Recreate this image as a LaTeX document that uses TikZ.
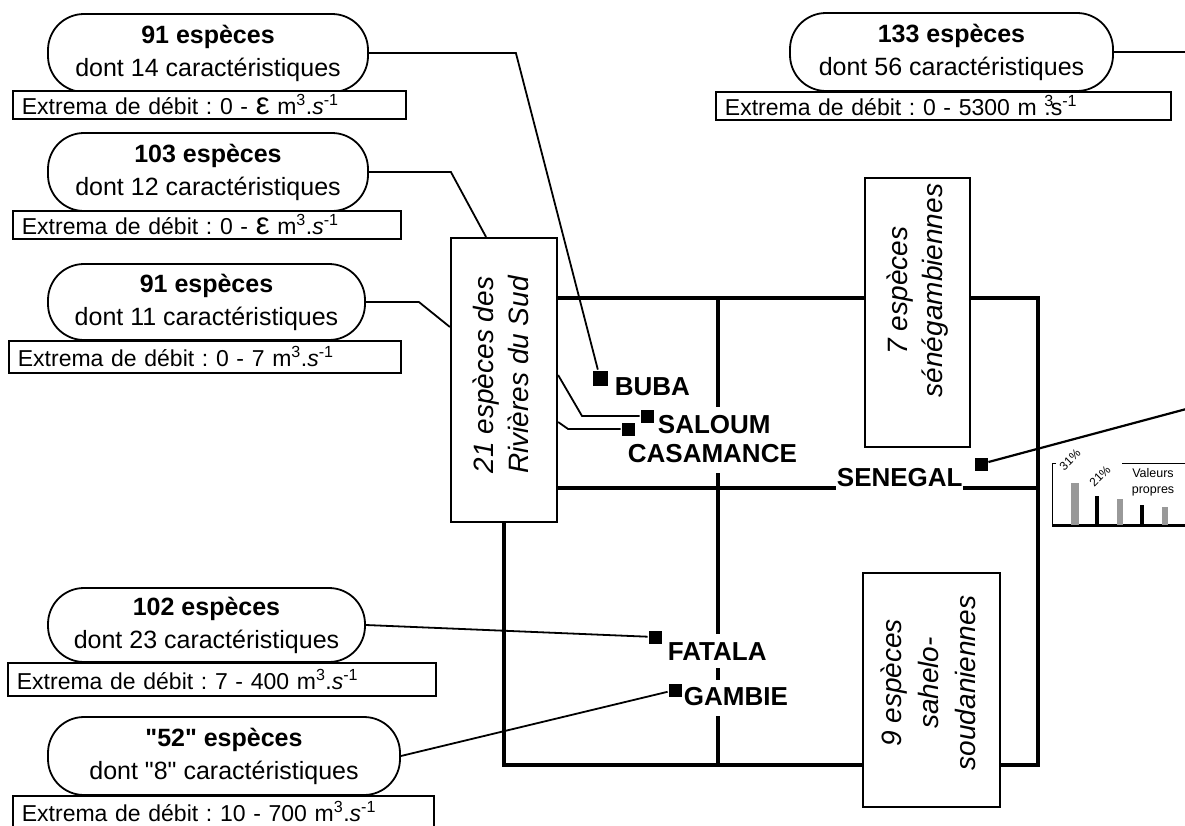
\documentclass[tikz,border=0pt]{standalone}
\usepackage{fontspec}
\setmainfont{Liberation Sans}
\newfontfamily\qfont{Liberation Sans}
\usetikzlibrary{positioning}
\frenchspacing
\newcommand{\eps}{\scalebox{1.35}{ε}}
\newcommand{\dq}{{\qfont\symbol{34}}}

\begin{document}
\begin{tikzpicture}[x=1pt, y=-1pt, line width=1.8pt,
 esp/.style={draw, rounded corners=36pt, minimum width=320pt, minimum height=78pt, inner sep=0pt, align=center, font=\fontsize{25}{33}\selectfont},
 deb/.style={draw, fill=white, anchor=north west, minimum height=28pt, inner xsep=9pt, inner ysep=0pt, align=left, font=\fontsize{23}{26}\selectfont},
 grp/.style={draw, line width=2.2pt, fill=white, inner sep=0pt, font=\fontsize{28}{35}\selectfont\itshape},
 stn/.style={fill=black, minimum size=13pt, inner sep=0pt},
 riv/.style={anchor=west, inner sep=0pt, font=\fontsize{26}{30}\selectfont\bfseries},
 frame/.style={line width=4.5pt}]

\useasboundingbox (0,0) rectangle (1185,825);

% Set A
\node[esp] (A) at (208,53) {\textbf{91 espèces}\\dont 14 caractéristiques};
\node[deb, text width=375pt] (A2) at (12,90) {Extrema de débit : 0 - \eps{} m\textsuperscript{3}.\textit{s}\textsuperscript{-1}};

% Set B
\node[esp] (B) at (208,172) {\textbf{103 espèces}\\dont 12 caractéristiques};
\node[deb, text width=370pt] (B2) at (12,210) {Extrema de débit : 0 - \eps{} m\textsuperscript{3}.\textit{s}\textsuperscript{-1}};

% Set C
\node[esp, minimum width=317pt, minimum height=76pt] (C) at (206.5,302) {\textbf{91 espèces}\\dont 11 caractéristiques};
\node[deb, text width=374pt, minimum height=32pt] (C2) at (8,340) {Extrema de débit : 0 - 7 m\textsuperscript{3}.\textit{s}\textsuperscript{-1}};

% Set D
\node[esp, minimum width=317pt, minimum height=74pt] (D) at (206.5,625) {\textbf{102 espèces}\\dont 23 caractéristiques};
\node[deb, text width=410pt, minimum height=33pt] (D2) at (7,662) {Extrema de débit : 7 - 400 m\textsuperscript{3}.\textit{s}\textsuperscript{-1}};

% Set E
\node[esp, minimum width=352pt] (E) at (224,756) {\textbf{\dq52\dq{} espèces}\\dont \dq8\dq{} caractéristiques};
\node[deb, text width=403pt, minimum height=32pt] (E2) at (12,795) {Extrema de débit : 10 - 700 m\textsuperscript{3}.\textit{s}\textsuperscript{-1}};

% Set F
\node[esp, minimum width=323pt] (F) at (951.5,52) {\textbf{133 espèces}\\dont 56 caractéristiques};
\node[deb, text width=437pt] (F2) at (715,91) {Extrema de débit : 0 - 5300 m \rlap{\textsuperscript{3}}.s\textsuperscript{-1}};

% groups
\node[grp, minimum width=106pt, minimum height=284pt] (R) at (504,380) {\rotatebox{90}{\hspace*{10pt}\begin{tabular}{@{}c@{}}21 espèces des\\Rivières du Sud\end{tabular}}};
\node[grp, minimum width=105pt, minimum height=269pt] (S) at (917.5,312.5) {\rotatebox{90}{\hspace*{44pt}\begin{tabular}{@{}c@{}}7 espèces\\sénégambiennes\end{tabular}}};
\node[grp, minimum width=137pt, minimum height=234pt, font=\fontsize{28}{37}\selectfont\itshape] (H) at (931.5,690) {\rotatebox{90}{\hspace*{14pt}\begin{tabular}{@{}c@{}}9 espèces\\sahelo-\\soudaniennes\end{tabular}}};

% rivers
\node[riv] (tbuba) at (614,387) {BUBA};
\node[riv] (tsal) at (657,425) {SALOUM};
\node[riv] (tcas) at (627,454) {CASAMANCE};
\node[riv] (tsen) at (836,477.5) {SENEGAL};
\node[riv] (tfat) at (667,652) {FATALA};
\node[riv] (tgam) at (683,697) {GAMBIE};

% stations
\node[stn, minimum size=15pt] (buba) at (600,378) {};
\node[stn] (saloum) at (647,416) {};
\node[stn] (casa) at (628,429) {};
\node[stn] (senegal) at (981,464) {};
\node[stn] (fatala) at (655,637) {};
\node[stn] (gambie) at (675,690) {};

% tree
\coordinate (top) at (0,298);
\coordinate (mid) at (0,488);
\coordinate (bot) at (0,765);
\coordinate (rgt) at (1038,0);
\draw[frame] (R.east |- top) -- (S.west |- top);
\draw[frame] (S.east |- top) -- (rgt |- top) -- (rgt |- bot) -- (H.east |- bot);
\draw[frame] (R.south) -- (R.south |- bot) -- (H.west |- bot);
\draw[frame] (R.east |- mid) -- (tsen.west |- mid);
\draw[frame] (tsen.east |- mid) -- (rgt |- mid);
\draw[frame] (718,298) -- (718,407);
\draw[frame] (718,473) -- (718,634);
\draw[frame] (718,668) -- (718,680);
\draw[frame] (718,716) -- (718,765);

% links
\coordinate (outF) at (1190,52);
\coordinate (outS) at (1190,408);
\draw (A.east) -- ++(147,0) -- (buba);
\draw (B.east) -- ++(82,0) -- ([xshift=-18pt]R.north);
\draw (C.east) -- ++(53,0) -- ([yshift=53pt]R.west);
\draw ([yshift=5pt]R.east) -- (582,416) -- (saloum);
\draw ([yshift=-42pt]R.east) -- ++(10,7) -- (casa);
\draw (D.east) -- (fatala);
\draw (E.east) -- (gambie);
\draw (F.east) -- (outF);
\draw[line width=2.2pt] (senegal) -- (outS);

% eigenvalues
\draw[line width=1pt] (1056,463) -- (1052,463) -- (1052,525);
\draw[line width=3pt] (1052,525) -- (1190,525);
\fill[gray!80] (1071,483) rectangle (1079,525);
\fill (1095,496) rectangle (1099,525);
\fill[gray!80] (1117,499) rectangle (1123,525);
\fill (1140,505) rectangle (1144,525);
\fill[gray!80] (1162,507) rectangle (1168,525);
\node[rotate=45, inner sep=0pt, font=\fontsize{12}{12}\selectfont] (p1) at (1070,460) {31\%};
\node[rotate=45, inner sep=0pt, font=\fontsize{12}{12}\selectfont] (p2) at (1100,476) {21\%};
\draw[line width=1pt] (1122,463) -- (1190,463);
\node[inner sep=0pt, align=center, font=\fontsize{12.5}{16}\selectfont] (vp) at (1153,482) {Valeurs\\propres};
\end{tikzpicture}
\end{document}
